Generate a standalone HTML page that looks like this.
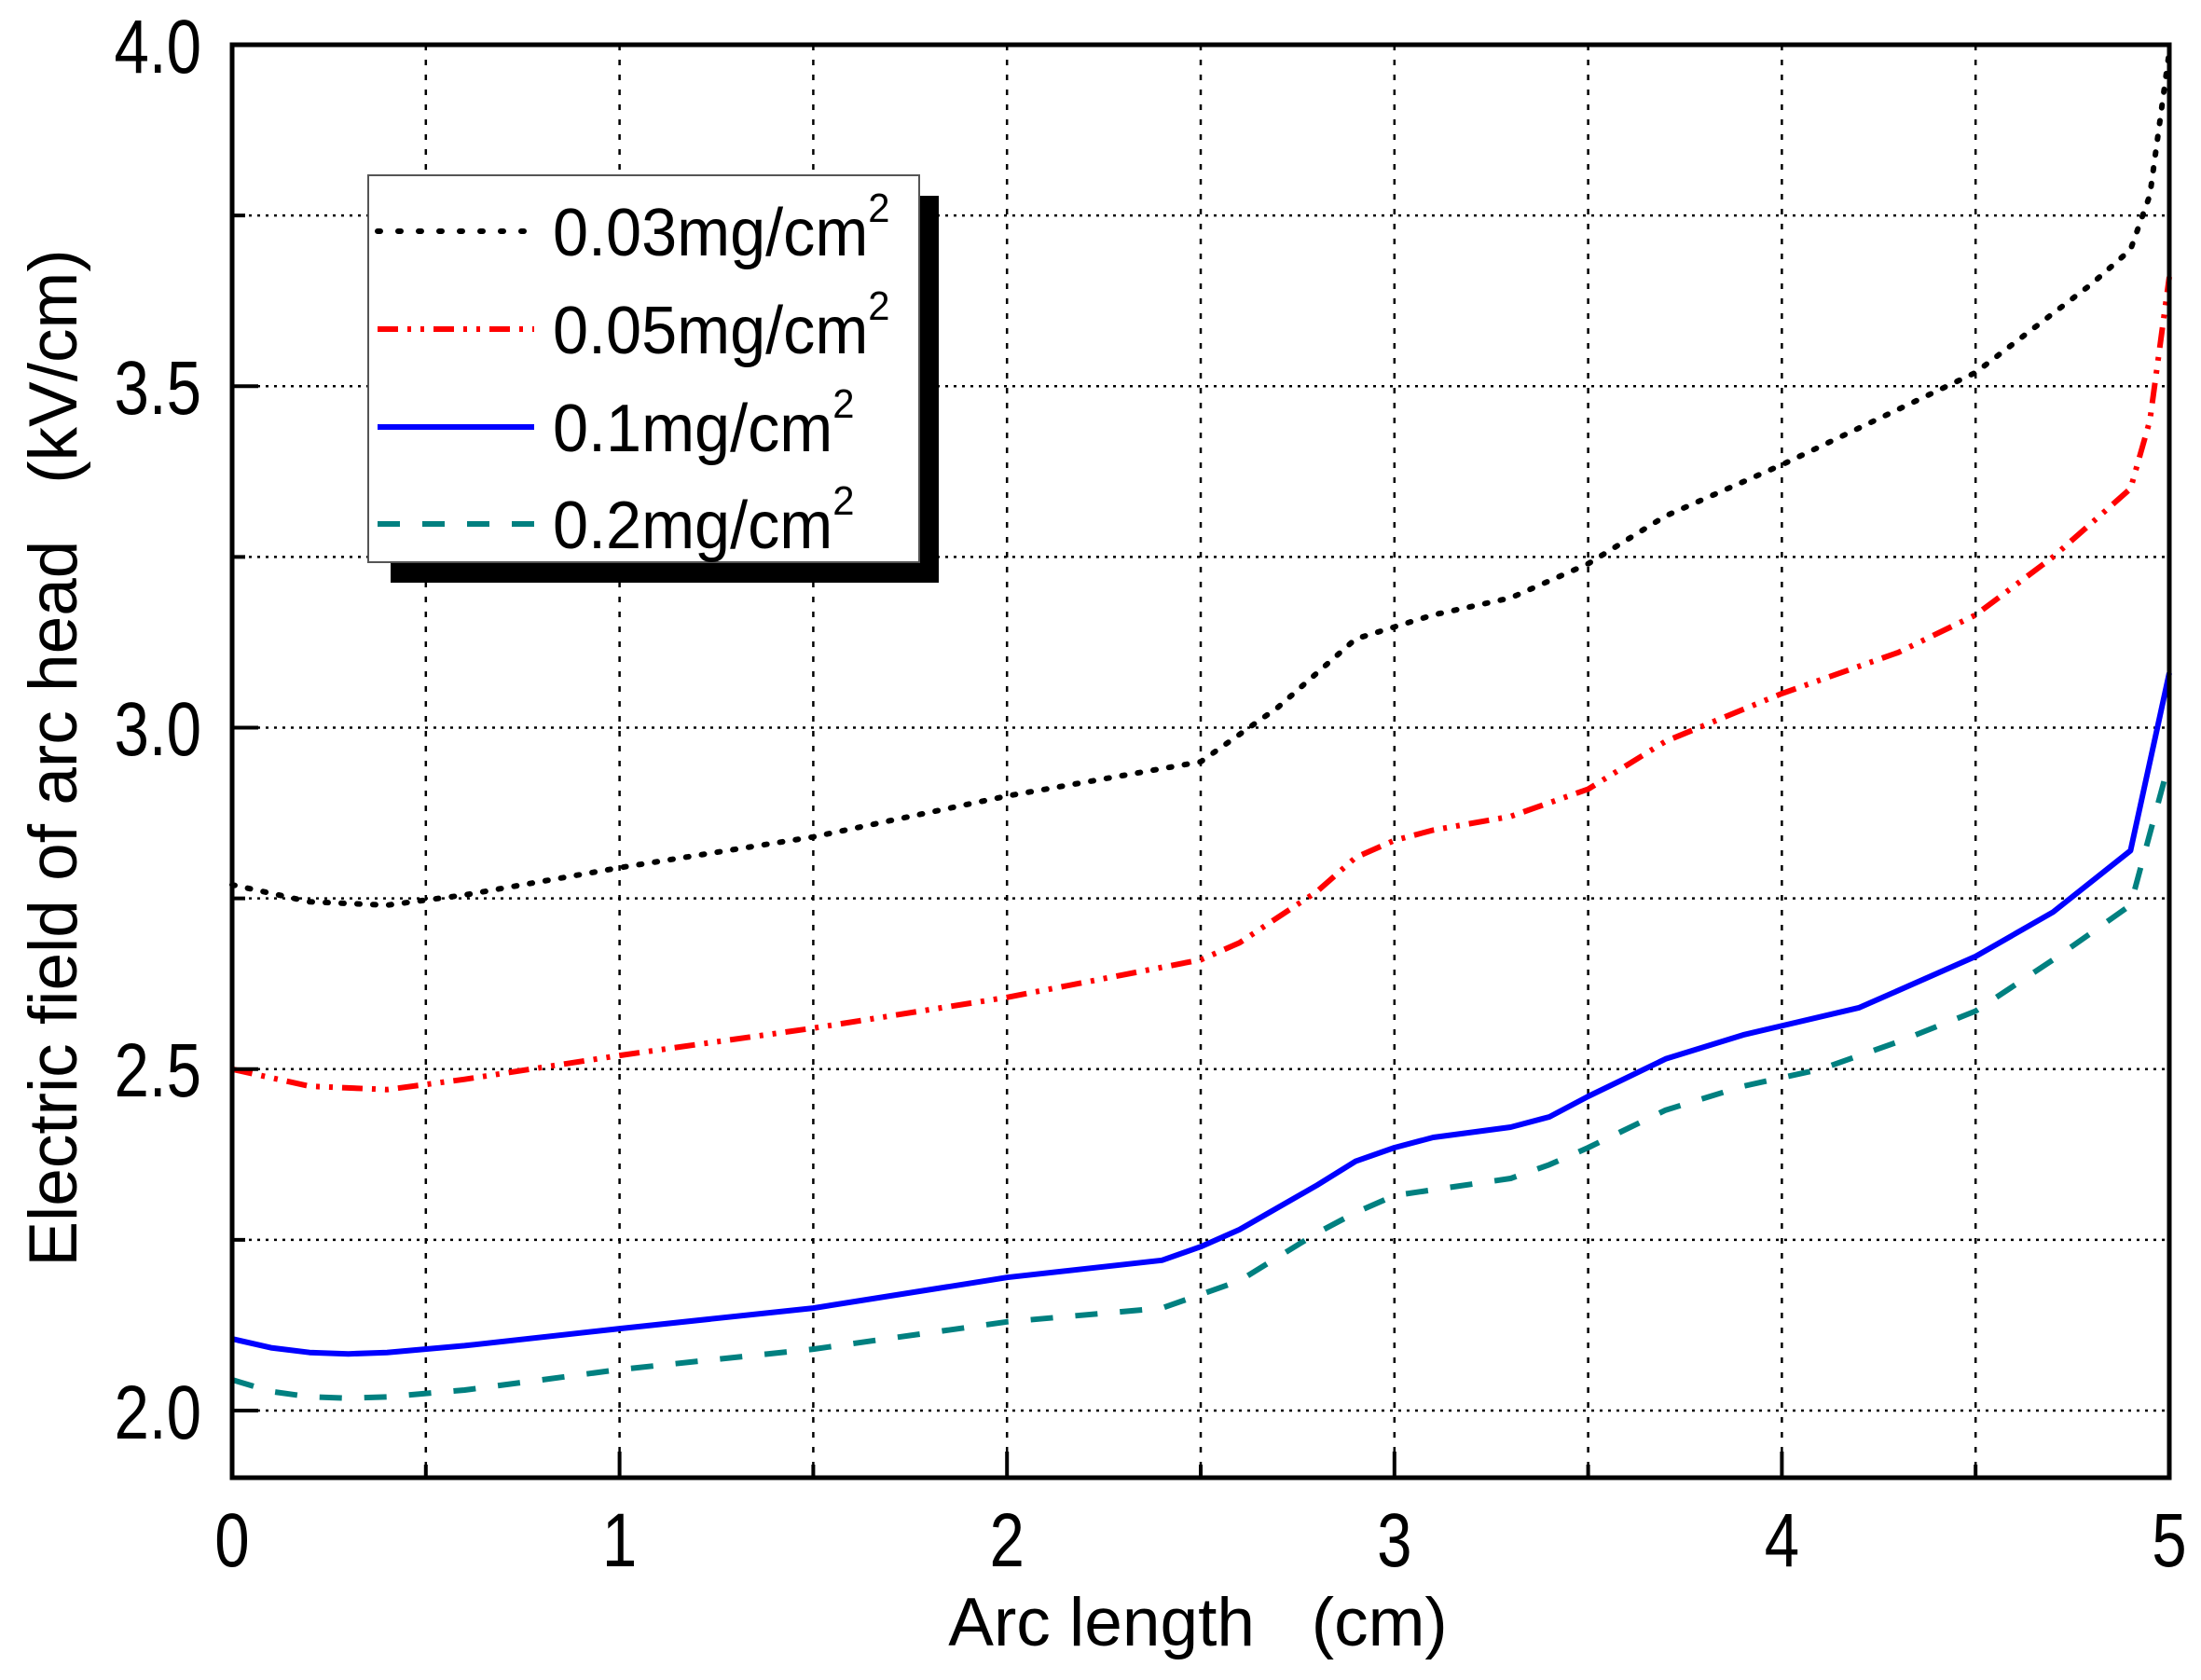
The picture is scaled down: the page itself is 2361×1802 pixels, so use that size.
<!DOCTYPE html>
<html><head><meta charset="utf-8"><style>
html,body{margin:0;padding:0;background:#fff}
svg{display:block}
text{font-family:"Liberation Sans",sans-serif;fill:#000}
</style></head><body>
<svg id="s" width="2361" height="1802" viewBox="0 0 2361 1802" xmlns="http://www.w3.org/2000/svg">
<g id="grid" stroke="#000" stroke-width="2.5" fill="none"></g>
<g id="series" fill="none"></g>
<rect x="249" y="48" width="2078" height="1537" fill="none" stroke="#000" stroke-width="5"/>
<g id="ticks" stroke="#000" stroke-width="4"></g>
<g font-size="82" text-anchor="end">
<text transform="translate(216,78) scale(.82,1)">4.0</text>
<text transform="translate(216,444) scale(.82,1)">3.5</text>
<text transform="translate(216,810) scale(.82,1)">3.0</text>
<text transform="translate(216,1176) scale(.82,1)">2.5</text>
<text transform="translate(216,1543) scale(.82,1)">2.0</text>
</g>
<g font-size="82" text-anchor="middle">
<text transform="translate(249,1680) scale(.82,1)">0</text>
<text transform="translate(664.6,1680) scale(.82,1)">1</text>
<text transform="translate(1080.2,1680) scale(.82,1)">2</text>
<text transform="translate(1495.8,1680) scale(.82,1)">3</text>
<text transform="translate(1911.4,1680) scale(.82,1)">4</text>
<text transform="translate(2327,1680) scale(.82,1)">5</text>
</g>
<text x="1285" y="1765" font-size="73" text-anchor="middle" xml:space="preserve">Arc length   (cm)</text>
<text transform="translate(82,813) rotate(-90)" font-size="73" text-anchor="middle" xml:space="preserve">Electric field of arc head   (kV/cm)</text>
<rect x="419" y="210" width="588" height="415" fill="#000"/>
<rect x="395" y="188" width="591" height="415" fill="#fff" stroke="#555" stroke-width="2"/>
<line x1="405" y1="248" x2="573" y2="248" stroke="#000" stroke-width="6" stroke-dasharray="3 19" stroke-linecap="round"/>
<line x1="405" y1="353" x2="573" y2="353" stroke="#f00" stroke-width="6" stroke-dasharray="22 10 4 10 4 10"/>
<line x1="405" y1="458" x2="573" y2="458" stroke="#00f" stroke-width="6"/>
<line x1="405" y1="562" x2="573" y2="562" stroke="#008080" stroke-width="6" stroke-dasharray="24 24"/>
<g font-size="72">
<text transform="translate(593,274) scale(.95,1)">0.03mg/cm<tspan font-size="44" dy="-36">2</tspan></text>
<text transform="translate(593,379) scale(.95,1)">0.05mg/cm<tspan font-size="44" dy="-36">2</tspan></text>
<text transform="translate(593,484) scale(.95,1)">0.1mg/cm<tspan font-size="44" dy="-36">2</tspan></text>
<text transform="translate(593,588) scale(.95,1)">0.2mg/cm<tspan font-size="44" dy="-36">2</tspan></text>
</g>
</svg>
<script>
var L=249,R=2327,T=48,B=1585;
function X(v){return L+(R-L)*v/5}
function Y(v){return 1513-(v-2)*732.5}
var ns="http://www.w3.org/2000/svg";
function el(p,n,a){var e=document.createElementNS(ns,n);for(var k in a)e.setAttribute(k,a[k]);document.getElementById(p).appendChild(e);}
for(var i=1;i<10;i++){el("grid","line",{x1:X(i*0.5),x2:X(i*0.5),y1:T,y2:B,"stroke-dasharray":"6 10"});}
for(var v=2.0;v<3.99;v+=0.25){el("grid","line",{x1:L,x2:R,y1:Y(v),y2:Y(v),"stroke-dasharray":"3 6"});}
for(var i=0;i<=10;i++){var len=i%2?14:28;el("ticks","line",{x1:X(i*0.5),x2:X(i*0.5),y1:B,y2:B-len});}
for(var k=0;k<=8;k++){var v=2+k*0.25;var len=k%2?14:28;el("ticks","line",{x1:L,x2:L+len,y1:Y(v),y2:Y(v)});}
var S=[
["#000","3 14",[[0,2.77],[0.2,2.745],[0.4,2.74],[0.6,2.755],[1,2.795],[1.5,2.84],[2,2.9],[2.5,2.95],[2.7,3.03],[2.9,3.13],[3.1,3.165],[3.3,3.19],[3.5,3.24],[3.7,3.31],[4,3.385],[4.5,3.52],[4.8,3.65],[4.9,3.7],[4.95,3.78],[5,3.99]]],
["#f00","22 10 4 10 4 10",[[0,2.5],[0.2,2.475],[0.4,2.47],[0.6,2.485],[1,2.52],[1.5,2.56],[2,2.605],[2.5,2.66],[2.6,2.685],[2.8,2.76],[2.9,2.81],[3.0,2.835],[3.1,2.85],[3.3,2.87],[3.5,2.91],[3.7,2.98],[4,3.05],[4.3,3.11],[4.5,3.165],[4.7,3.25],[4.9,3.35],[4.95,3.45],[5,3.66]]],
["#00f","",[[0,2.105],[0.1,2.092],[0.2,2.085],[0.3,2.083],[0.4,2.085],[0.6,2.095],[1,2.12],[1.5,2.15],[2,2.195],[2.4,2.22],[2.5,2.24],[2.6,2.265],[2.8,2.33],[2.9,2.365],[3.0,2.385],[3.1,2.4],[3.3,2.415],[3.4,2.43],[3.5,2.46],[3.7,2.515],[3.9,2.55],[4.2,2.59],[4.5,2.665],[4.7,2.73],[4.9,2.82],[5,3.08]]],
["#008080","24 24",[[0,2.045],[0.1,2.028],[0.2,2.02],[0.3,2.018],[0.4,2.02],[0.6,2.03],[1,2.06],[1.5,2.09],[2,2.13],[2.4,2.15],[2.5,2.17],[2.6,2.19],[2.8,2.26],[2.9,2.29],[3.0,2.315],[3.3,2.34],[3.4,2.36],[3.5,2.385],[3.7,2.44],[3.9,2.475],[4.1,2.5],[4.3,2.54],[4.5,2.585],[4.7,2.66],[4.9,2.74],[5,2.95]]]
];
S.forEach(function(s){var p=s[2].map(function(q){return X(q[0]).toFixed(1)+","+Y(q[1]).toFixed(1)}).join(" ");
var a={points:p,stroke:s[0],"stroke-width":6,"stroke-linejoin":"round"};if(s[1])a["stroke-dasharray"]=s[1];if(s[1]=="3 14")a["stroke-linecap"]="round";el("series","polyline",a);});
</script>
</body></html>
